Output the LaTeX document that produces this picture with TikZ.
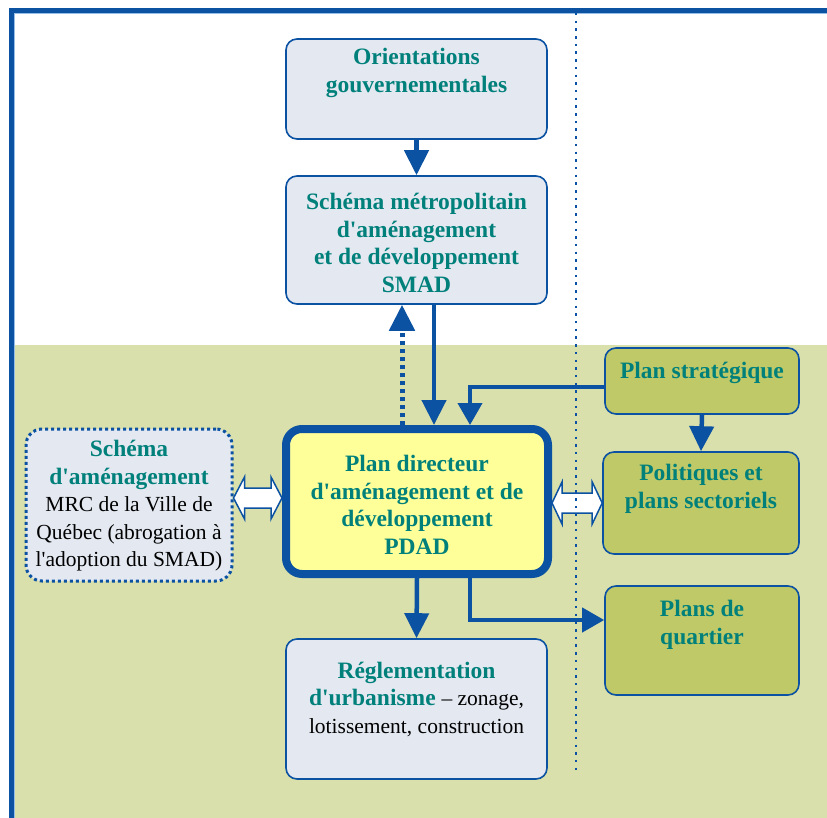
\documentclass[tikz,border=0pt]{standalone}
\usepackage{fontspec}
\setmainfont{Liberation Serif}[Ligatures=TeXOff]
\usetikzlibrary{arrows.meta,calc}

\definecolor{frameblue}{RGB}{12,82,162}
\definecolor{tealtxt}{RGB}{0,128,122}
\definecolor{boxfill}{RGB}{227,232,241}
\definecolor{greenbg}{RGB}{217,224,172}
\definecolor{greenbox}{RGB}{191,201,104}
\definecolor{pdadfill}{RGB}{255,255,153}
\definecolor{lightline}{RGB}{150,190,230}

\newcommand{\tbt}[1]{{\bfseries\color{tealtxt}#1}}
\newcommand{\rgt}[1]{{\fontsize{21.5}{26.5}\selectfont\color{black}#1}}

\begin{document}
\begin{tikzpicture}[x=1pt,y=-1pt,
  lbox/.style={draw=frameblue, line width=1.6pt, fill=boxfill, rounded corners=11pt, inner sep=0pt},
  gbox/.style={draw=frameblue, line width=1.6pt, fill=greenbox, rounded corners=11pt, inner sep=0pt},
  pdadbox/.style={draw=frameblue, line width=8pt, fill=pdadfill, rounded corners=16pt, inner sep=0pt},
  schbox/.style={draw=frameblue, line width=3pt, dash pattern=on 3pt off 3pt, fill=boxfill, rounded corners=16pt, inner sep=0pt},
  txt/.style={inner sep=0pt, align=center, font=\fontsize{23.5}{27.5}\selectfont},
  conn/.style={draw=frameblue, line width=4.5pt, -{Triangle[length=25pt,width=24pt]}},
  thinconn/.style={draw=frameblue, line width=4pt, -{Triangle[length=22pt,width=24pt]}},
  dotconn/.style={draw=frameblue, line width=5pt, dash pattern=on 4.5pt off 3.5pt, -{Triangle[length=26pt,width=25pt]}},
  dblarrow/.style={draw=frameblue, line width=1.5pt, fill=white, line join=miter},
  sepline/.style={draw=frameblue, line width=2.5pt, dash pattern=on 2.5pt off 5.2pt}
]
\useasboundingbox (0,0) rectangle (827,818);
\clip (0,0) rectangle (827,818);
\fill[white] (0,0) rectangle (827,818);
\fill[greenbg] (14,345) rectangle (827,818);
\draw[frameblue, line width=5pt] (11.5,10.5) rectangle (845,845);
\draw[lightline, line width=1pt] (14.5,830) -- (14.5,13.5) -- (830,13.5);

% boxes
\node[lbox, minimum width=261pt, minimum height=100pt] (orient) at (416.5,89) {};
\node[lbox, minimum width=261pt, minimum height=128pt] (smad) at (416.5,240) {};
\node[pdadbox, minimum width=262pt, minimum height=145pt] (pdad) at (417,501.5) {};
\node[schbox, minimum width=206pt, minimum height=152pt] (schema) at (129,505) {};
\node[gbox, minimum width=194pt, minimum height=66pt] (strat) at (702,381) {};
\node[gbox, minimum width=196pt, minimum height=102pt] (polit) at (701,503) {};
\node[gbox, minimum width=194pt, minimum height=109pt] (quart) at (702,640.5) {};
\node[lbox, minimum width=261pt, minimum height=140pt] (regl) at (416.5,709) {};

% texts
\node[txt] (t-orient) at (416.5,73) {\tbt{Orientations}\\\tbt{gouvernementales}};
\node[txt] (t-smad) at (416.5,243) {\tbt{Schéma métropolitain}\\\tbt{d'aménagement}\\\tbt{et de développement}\\\tbt{SMAD}};
\node[txt] (t-pdad) at (417,505) {\tbt{Plan directeur}\\\tbt{d'aménagement et de}\\\tbt{développement}\\\tbt{PDAD}};
\node[txt] (t-schema) at (129,506) {\tbt{Schéma}\\\tbt{d'aménagement}\\\rgt{MRC de la Ville de}\\\rgt{Québec (abrogation à}\\\rgt{l'adoption du SMAD)}};
\node[txt] (t-strat) at (702,373) {\tbt{Plan stratégique}};
\node[txt] (t-polit) at (701,489) {\tbt{Politiques et}\\\tbt{plans sectoriels}};
\node[txt] (t-quart) at (702,625) {\tbt{Plans de}\\\tbt{quartier}};
\node[txt] (t-regl) at (416.5,699) {\tbt{Réglementation}\\\tbt{d'urbanisme} \rgt{– zonage,}\\\rgt{lotissement, construction}};

% helper coordinates
\coordinate (xdot) at (402,0);
\coordinate (xdown) at (434,0);
\coordinate (xside) at (470,0);
\coordinate (yda1) at (0,498);
\coordinate (yda2) at (0,503);
\coordinate (da1l) at (schema.east |- yda1);
\coordinate (da1r) at (pdad.west |- yda1);
\coordinate (da2l) at (pdad.east |- yda2);
\coordinate (da2r) at (polit.west |- yda2);

% connectors
\draw[conn] (orient.south) -- (smad.north);
\draw[dotconn] (xdot |- pdad.north) -- (xdot |- smad.south);
\draw[conn] (xdown |- smad.south) -- (xdown |- pdad.north);
\draw[thinconn] ($(strat.west)+(0,6)$) -| (xside |- pdad.north);
\draw[conn] (strat.south) -- (polit.north);
\draw[conn] (pdad.south) -- (regl.north);
\draw[thinconn] (xside |- pdad.south) |- ($(quart.west)+(0,-20.5)$);

% double block arrows
\draw[dblarrow] (da1l) -- ++(11,-21) -- ++(0,11) -- ($(da1r)+(-11,-10)$) -- ++(0,-11) -- (da1r)
  -- ++(-11,21) -- ++(0,-11) -- ($(da1l)+(11,10)$) -- ++(0,11) -- cycle;
\draw[dblarrow] (da2l) -- ++(10,-21) -- ++(0,11) -- ($(da2r)+(-10,-10)$) -- ++(0,-11) -- (da2r)
  -- ++(-10,21) -- ++(0,-11) -- ($(da2l)+(10,10)$) -- ++(0,11) -- cycle;

% separator
\coordinate (septop) at (576,13);
\coordinate (sepbot) at (576,775);
\draw[sepline] (septop) -- (sepbot);
\end{tikzpicture}
\end{document}
